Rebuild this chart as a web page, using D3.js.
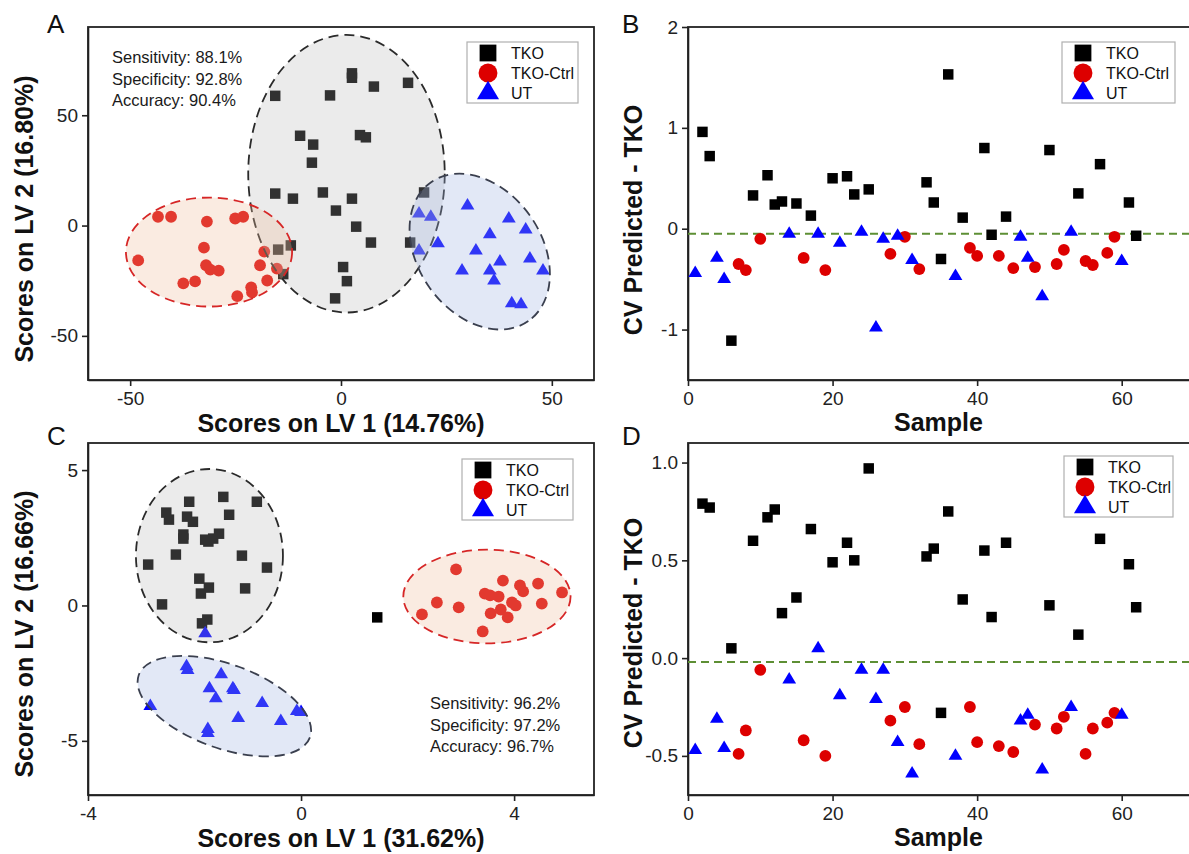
<!DOCTYPE html>
<html>
<head>
<meta charset="utf-8">
<script src="https://cdn.jsdelivr.net/npm/d3@7"></script>
<style>
  body { margin: 0; background: #fff; }
  svg { display: block; font-family: Arial, "Liberation Sans", sans-serif; }
</style>
</head>
<body>
<svg id="fig" width="1189" height="854"></svg>
<script>
// ---- data ----
const groups = ["TKO", "TKO-Ctrl", "UT"];

// Panel A: scores on LV1 / LV2
const aTKO = [[-15.6,58.8],[-2.6,59],[2.6,69],[2.6,67],[7.8,63],[15.9,64.7],[-9.7,40.7],[-6.6,36.7],
  [-6.9,28.5],[4.5,41],[5.9,40],[-15.6,14.5],[-11.4,12.2],[-4.3,15],[2.6,12.2],[-1.2,6.8],[19.7,15],
  [3.6,-0.5],[7.1,-7.7],[16.4,-7.7],[0.5,-18.8],[1.4,-25.2],[-1.4,-33],[-14.9,-10.9],[-11.9,-9],[-13.7,-22]];
const aCtrl = [[-43.4,4],[-40.3,4],[-31.8,1.8],[-25.1,3.2],[-23.2,4],[-32.5,-10],[-48.1,-15.8],[-32,-18],
  [-31,-20],[-29,-20.4],[-37.4,-26.2],[-34.6,-25.3],[-24.6,-32],[-21.3,-28],[-21.1,-30.3],[-19.2,-18],
  [-18.2,-11.8],[-17.5,-24.9],[-15.2,-19.5]];
const aUT = [[30,9],[18.5,5.4],[21.3,4],[39.8,3.2],[43.8,-1.8],[35.3,-4],[23,-8.1],[18.5,-11.3],[32,-11.3],
  [37.7,-16.3],[44.8,-15],[28.7,-20.4],[35.3,-20.4],[36.3,-24.9],[47.9,-20.4],[40.5,-35.3],[42.7,-35.7]];
// confidence ellipses: group, cx, cy, rx, ry (data units), rotation (deg)
const aEllipses = [["TKO",1.3,23.5,23.3,62.9,0],["TKO-Ctrl",-31.3,-12,19.7,24.7,0],["UT",32.9,-11.8,20.1,28,55]];
const aStats = ["Sensitivity: 88.1%", "Specificity: 92.8%", "Accuracy: 90.4%"];

// Panel C
const cTKO = [[-2.53,3.43],[-2.48,3.17],[-2.10,3.83],[-2.14,3.28],[-2.03,3.09],[-1.46,4.01],[-0.83,3.83],
  [-1.35,3.35],[-2.21,2.62],[-2.21,2.47],[-1.80,2.43],[-1.74,2.36],[-1.65,2.47],[-1.54,2.65],[-2.35,1.88],
  [-1.11,1.84],[-2.87,1.51],[-0.64,1.40],[-1.91,0.99],[-1.73,0.66],[-1.88,0.44],[-1.05,0.63],[-2.61,0.04],
  [-1.86,-0.66],[-1.76,-0.52],[1.43,-0.44]];
const cCtrl = [[2.91,1.33],[3.79,0.92],[4.11,0.74],[4.45,0.81],[4.90,0.48],[4.17,0.52],[3.45,0.44],[3.55,0.37],
  [3.71,0.33],[2.55,0.11],[2.96,-0.07],[3.96,0.11],[4.03,0.0],[4.52,0.07],[2.27,-0.33],[3.56,-0.29],
  [3.75,-0.15],[3.88,-0.44],[3.41,-0.96]];
const cUT = [[-1.80,-1.03],[-2.15,-2.25],[-2.13,-2.39],[-1.50,-2.54],[-1.72,-3.06],[-1.60,-3.43],[-1.28,-3.06],
  [-1.26,-3.13],[-2.83,-3.72],[-0.73,-3.61],[-1.18,-4.16],[0.0,-3.94],[-0.08,-3.90],[-0.38,-4.27],
  [-1.75,-4.57],[-1.75,-4.71]];
const cEllipses = [["TKO",-1.72,1.84,1.38,3.2,0],["TKO-Ctrl",3.49,0.33,1.57,1.73,0],["UT",-1.44,-3.72,1.71,1.55,20]];
const cStats = ["Sensitivity: 96.2%", "Specificity: 97.2%", "Accuracy: 96.7%"];

// Panels B and D: CV predicted value per sample
const tkoSamples = [2,3,6,9,11,12,13,15,17,20,22,23,25,33,34,35,36,38,41,42,44,50,54,57,61,62];
const ctrlSamples = [7,8,10,16,19,28,30,32,39,40,43,45,48,51,52,55,56,58,59];
const utSamples = [1,4,5,14,18,21,24,26,27,29,31,37,46,47,49,53,60];

const bTKO = [0.96,0.72,-1.11,0.33,0.53,0.24,0.27,0.25,0.13,0.50,0.52,0.34,0.39,0.46,0.26,-0.30,1.53,0.11,
  0.80,-0.06,0.12,0.78,0.35,0.64,0.26,-0.07];
const bCtrl = [-0.35,-0.41,-0.10,-0.29,-0.41,-0.25,-0.08,-0.40,-0.19,-0.27,-0.27,-0.39,-0.38,-0.35,-0.21,
  -0.32,-0.36,-0.24,-0.08];
const bUT = [-0.44,-0.29,-0.50,-0.05,-0.05,-0.14,-0.03,-0.98,-0.10,-0.07,-0.31,-0.47,-0.08,-0.29,-0.67,-0.03,-0.32];
const bThreshold = -0.05;

const dTKO = [0.79,0.77,0.05,0.60,0.72,0.76,0.23,0.31,0.66,0.49,0.59,0.50,0.97,0.52,0.56,-0.28,0.75,0.30,
  0.55,0.21,0.59,0.27,0.12,0.61,0.48,0.26];
const dCtrl = [-0.49,-0.37,-0.06,-0.42,-0.50,-0.32,-0.25,-0.44,-0.25,-0.43,-0.45,-0.48,-0.34,-0.36,-0.30,
  -0.49,-0.36,-0.33,-0.28];
const dUT = [-0.47,-0.31,-0.46,-0.11,0.05,-0.19,-0.06,-0.21,-0.06,-0.43,-0.59,-0.50,-0.32,-0.29,-0.57,-0.25,-0.29];
const dThreshold = -0.02;

// ---- styling ----
const COLORS = { "TKO": "#000000", "TKO-Ctrl": "#dd0000", "UT": "#0000ff" };
const ELLIPSE_STYLE = {
  "TKO":      { fill: "rgb(180,180,180)", opacity: 0.27, stroke: "#2a2a2a" },
  "TKO-Ctrl": { fill: "rgb(238,188,155)", opacity: 0.3,  stroke: "#d62626" },
  "UT":       { fill: "rgb(158,178,225)", opacity: 0.3,  stroke: "#3a3f4e" }
};
const hyphen = f => d => f(d).replace("\u2212", "-");

const svg = d3.select("#fig");

function markerPath(group, s) {
  if (group === "TKO") return d3.symbol(d3.symbolSquare, 110 * s * s)();
  if (group === "TKO-Ctrl") return d3.symbol(d3.symbolCircle, Math.PI * 5.9 * 5.9 * s * s)();
  return `M0,${-7.6 * s}L${6.9 * s},${3.9 * s}L${-6.9 * s},${3.9 * s}Z`;
}

function panel(o) {
  const g = svg.append("g");
  const x = d3.scaleLinear().domain(o.xDomain).range([o.left, o.right]);
  const y = d3.scaleLinear().domain(o.yDomain).range([o.bottom, o.top]);

  const xa = g.append("g").attr("transform", `translate(0,${o.bottom})`)
    .call(d3.axisBottom(x).tickValues(o.xTicks).tickFormat(hyphen(o.xFmt || d3.format("d")))
      .tickSize(6).tickSizeOuter(0).tickPadding(6));
  const ya = g.append("g").attr("transform", `translate(${o.left},0)`)
    .call(d3.axisLeft(y).tickValues(o.yTicks).tickFormat(hyphen(o.yFmt || d3.format("d")))
      .tickSize(6).tickSizeOuter(0).tickPadding(4));
  [xa, ya].forEach(a => {
    a.attr("font-family", null).attr("font-size", 19);
    a.selectAll("text").attr("fill", "#222");
    a.selectAll("line, path").attr("stroke", "#222").attr("stroke-width", 1.6);
  });

  // frame
  g.append("rect").attr("x", o.left).attr("y", o.top)
    .attr("width", o.right - o.left).attr("height", o.bottom - o.top)
    .attr("fill", "none").attr("stroke", "#222").attr("stroke-width", 1.8);

  g.append("text").attr("x", (o.left + Math.min(o.right, 1189)) / 2).attr("y", o.xTitleY)
    .attr("text-anchor", "middle").attr("font-weight", "bold").attr("font-size", 25)
    .attr("fill", "#111").text(o.xTitle);
  g.append("text")
    .attr("transform", `translate(${o.yTitleX},${o.yTitleC}) rotate(-90)`)
    .attr("text-anchor", "middle").attr("font-weight", "bold").attr("font-size", 25)
    .attr("fill", "#111").text(o.yTitle);

  g.append("text").attr("x", o.letterX).attr("y", o.letterY)
    .attr("font-size", 26).attr("fill", "#111").text(o.letter);

  const plot = g.append("g");
  return { g, plot, x, y };
}

function drawPoints(p, pts, group) {
  p.plot.append("g").selectAll("path").data(pts).join("path")
    .attr("transform", d => `translate(${p.x(d[0])},${p.y(d[1])})`)
    .attr("d", markerPath(group, 1))
    .attr("fill", COLORS[group]);
}

function drawEllipses(p, list) {
  p.plot.append("g").selectAll("ellipse").data(list).join("ellipse")
    .attr("cx", d => p.x(d[1])).attr("cy", d => p.y(d[2]))
    .attr("rx", d => Math.abs(p.x(d[1] + d[3]) - p.x(d[1])))
    .attr("ry", d => Math.abs(p.y(d[2] + d[4]) - p.y(d[2])))
    .attr("transform", d => `rotate(${d[5]},${p.x(d[1])},${p.y(d[2])})`)
    .attr("fill", d => ELLIPSE_STYLE[d[0]].fill)
    .attr("fill-opacity", d => ELLIPSE_STYLE[d[0]].opacity)
    .attr("stroke", d => ELLIPSE_STYLE[d[0]].stroke)
    .attr("stroke-width", 1.8)
    .attr("stroke-dasharray", "10,6");
}

function drawLegend(p, x0, y0, w) {
  const lg = p.g.append("g");
  lg.append("rect").attr("x", x0).attr("y", y0).attr("width", w).attr("height", 61)
    .attr("fill", "#fff").attr("stroke", "#b0b0b0").attr("stroke-width", 1.2);
  groups.forEach((k, i) => {
    const cy = y0 + 11 + i * 20;
    lg.append("path").attr("transform", `translate(${x0 + 21},${cy})`)
      .attr("d", markerPath(k, 1.6)).attr("fill", COLORS[k]);
    lg.append("text").attr("x", x0 + 44).attr("y", cy + 6)
      .attr("font-size", 16).attr("fill", "#111").text(k);
  });
}

function drawStats(p, lines, x0, y0) {
  p.g.append("g").selectAll("text").data(lines).join("text")
    .attr("x", x0).attr("y", (d, i) => y0 + i * 21.5)
    .attr("font-size", 16.5).attr("fill", "#1a1a1a").text(d => d);
}

function drawThreshold(p, v) {
  p.plot.append("line")
    .attr("x1", p.x.range()[0]).attr("x2", p.x.range()[1])
    .attr("y1", p.y(v)).attr("y2", p.y(v))
    .attr("stroke", "#5d8f34").attr("stroke-width", 2).attr("stroke-dasharray", "8,5");
}

// ---- Panel A ----
const pA = panel({
  left: 88, right: 594, top: 27, bottom: 380,
  xDomain: [-60, 60], yDomain: [-70, 90], xTicks: [-50, 0, 50], yTicks: [-50, 0, 50],
  xTitle: "Scores on LV 1 (14.76%)", xTitleY: 432,
  yTitle: "Scores on LV 2 (16.80%)", yTitleX: 33, yTitleC: 219,
  letter: "A", letterX: 47, letterY: 33
});
drawPoints(pA, aTKO, "TKO");
drawPoints(pA, aCtrl, "TKO-Ctrl");
drawPoints(pA, aUT, "UT");
drawEllipses(pA, aEllipses);
drawLegend(pA, 467, 42, 111);
drawStats(pA, aStats, 112, 63);

// ---- Panel B ----
const pB = panel({
  left: 688, right: 1194, top: 27, bottom: 380,
  xDomain: [0, 70], yDomain: [-1.5, 2], xTicks: [0, 20, 40, 60], yTicks: [-1, 0, 1, 2],
  xTitle: "Sample", xTitleY: 431,
  yTitle: "CV Predicted - TKO", yTitleX: 642, yTitleC: 220,
  letter: "B", letterX: 622, letterY: 33
});
drawThreshold(pB, bThreshold);
drawPoints(pB, d3.zip(tkoSamples, bTKO), "TKO");
drawPoints(pB, d3.zip(ctrlSamples, bCtrl), "TKO-Ctrl");
drawPoints(pB, d3.zip(utSamples, bUT), "UT");
drawLegend(pB, 1062, 42, 113);

// ---- Panel C ----
const pC = panel({
  left: 88, right: 594, top: 443, bottom: 795,
  xDomain: [-4, 5.5], yDomain: [-7, 6], xTicks: [-4, 0, 4], yTicks: [-5, 0, 5],
  xTitle: "Scores on LV 1 (31.62%)", xTitleY: 847,
  yTitle: "Scores on LV 2 (16.66%)", yTitleX: 33, yTitleC: 634,
  letter: "C", letterX: 47, letterY: 445
});
drawPoints(pC, cTKO, "TKO");
drawPoints(pC, cCtrl, "TKO-Ctrl");
drawPoints(pC, cUT, "UT");
drawEllipses(pC, cEllipses);
drawLegend(pC, 462, 459, 111);
drawStats(pC, cStats, 430, 709);

// ---- Panel D ----
const pD = panel({
  left: 688, right: 1194, top: 443, bottom: 795,
  xDomain: [0, 70], yDomain: [-0.7, 1.1], xTicks: [0, 20, 40, 60], yTicks: [-0.5, 0, 0.5, 1.0],
  yFmt: d3.format(".1f"),
  xTitle: "Sample", xTitleY: 846,
  yTitle: "CV Predicted - TKO", yTitleX: 642, yTitleC: 633,
  letter: "D", letterX: 622, letterY: 445
});
drawThreshold(pD, dThreshold);
drawPoints(pD, d3.zip(tkoSamples, dTKO), "TKO");
drawPoints(pD, d3.zip(ctrlSamples, dCtrl), "TKO-Ctrl");
drawPoints(pD, d3.zip(utSamples, dUT), "UT");
drawLegend(pD, 1064, 456, 109);
</script>
</body>
</html>
